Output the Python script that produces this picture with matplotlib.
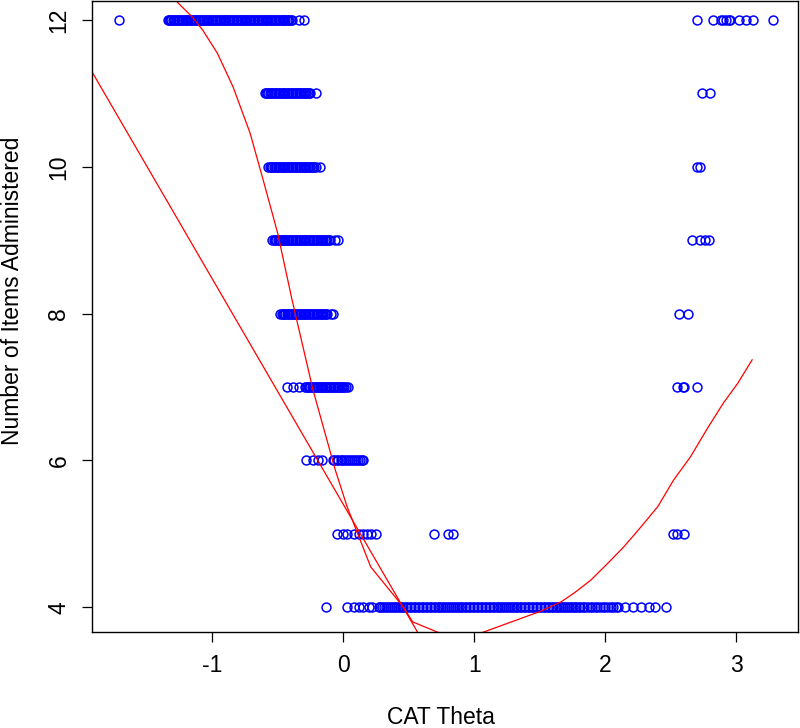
import numpy as np
import matplotlib
matplotlib.use('Agg')
import matplotlib.pyplot as plt

plt.rcParams['font.family'] = ['Liberation Sans', 'DejaVu Sans']
plt.rcParams['axes.unicode_minus'] = False

# ==> Data: CAT theta per number of items administered
theta_n4 = [-0.13, 0.03, 0.08, 0.12, 0.15, 0.20, 0.22,
            0.27, 0.28, 0.30, 0.31, 0.33, 0.34, 0.36, 0.37, 0.39, 0.40,
            0.42, 0.43, 0.45, 0.46, 0.48, 0.49, 0.51, 0.52, 0.54, 0.55,
            0.57, 0.58, 0.60, 0.61, 0.63, 0.64, 0.66, 0.67, 0.69, 0.70,
            0.72, 0.73, 0.75, 0.76, 0.78, 0.79, 0.81, 0.82, 0.84, 0.85,
            0.87, 0.88, 0.90, 0.91, 0.93, 0.94, 0.96, 0.97, 0.99, 1.00,
            1.02, 1.03, 1.05, 1.06, 1.08, 1.09, 1.11, 1.12, 1.14, 1.15,
            1.17, 1.18, 1.20, 1.21, 1.23, 1.24, 1.26, 1.27, 1.29, 1.30,
            1.32, 1.33, 1.35, 1.36, 1.38, 1.39, 1.41, 1.42, 1.44, 1.45,
            1.47, 1.48, 1.50, 1.51, 1.53, 1.54, 1.56, 1.57, 1.59, 1.60,
            1.62, 1.63, 1.65, 1.66, 1.68, 1.69, 1.71, 1.72, 1.74, 1.75,
            1.77, 1.78, 1.80, 1.81, 1.83, 1.84, 1.86, 1.88, 1.90, 1.92,
            1.94, 1.96, 1.98, 2.00, 2.02, 2.04, 2.06, 2.08, 2.10,
            2.15, 2.21, 2.27, 2.33, 2.38, 2.46]
theta_n5 = [-0.05, 0.00, 0.03, 0.08, 0.12, 0.15, 0.18, 0.21, 0.25,
            0.69, 0.80, 0.84, 2.52, 2.55, 2.60]
theta_n6 = [-0.28, -0.23, -0.19, -0.16,
            -0.08, -0.07, -0.05, -0.04, -0.02, -0.01, 0.01, 0.02, 0.04,
            0.05, 0.07, 0.08, 0.10, 0.11, 0.13, 0.14, 0.15]
theta_n7 = [-0.43, -0.38, -0.34,
            -0.29, -0.28, -0.27, -0.26, -0.25, -0.24, -0.23, -0.22, -0.21,
            -0.20, -0.19, -0.18, -0.17, -0.16, -0.15, -0.14, -0.13, -0.12,
            -0.11, -0.10, -0.09, -0.08, -0.07, -0.06, -0.05, -0.04, -0.03,
            -0.02, -0.01, 0.00, 0.01, 0.02, 0.04,
            2.55, 2.59, 2.60, 2.70]
theta_n8 = [-0.48, -0.47, -0.46, -0.45, -0.44, -0.43, -0.42, -0.41, -0.40,
            -0.39, -0.38, -0.37, -0.36, -0.35, -0.34, -0.33, -0.32, -0.31,
            -0.30, -0.29, -0.28, -0.27, -0.26, -0.25, -0.24, -0.23, -0.22,
            -0.21, -0.20, -0.19, -0.18, -0.17, -0.16, -0.15, -0.14, -0.13,
            -0.12, -0.09, -0.08, 2.56, 2.63]
theta_n9 = [-0.54, -0.53, -0.52, -0.51, -0.50, -0.49, -0.48, -0.47, -0.46,
            -0.45, -0.44, -0.43, -0.42, -0.41, -0.40, -0.39, -0.38, -0.37,
            -0.36, -0.35, -0.34, -0.33, -0.32, -0.31, -0.30, -0.29, -0.28,
            -0.27, -0.26, -0.25, -0.24, -0.23, -0.22, -0.21, -0.20, -0.19,
            -0.18, -0.17, -0.16, -0.15, -0.14, -0.13, -0.12, -0.11, -0.10,
            -0.06, -0.04, 2.66, 2.72, 2.76, 2.79]
theta_n10 = [-0.57, -0.56, -0.55, -0.54, -0.53, -0.52, -0.51, -0.50, -0.49,
             -0.48, -0.47, -0.46, -0.45, -0.44, -0.43, -0.42, -0.41, -0.40,
             -0.39, -0.38, -0.37, -0.36, -0.35, -0.34, -0.33, -0.32, -0.31,
             -0.30, -0.29, -0.28, -0.27, -0.26, -0.25, -0.24, -0.23, -0.22,
             -0.21, -0.18, 2.70, 2.72]
theta_n11 = [-0.60, -0.59, -0.58, -0.57, -0.56, -0.55, -0.54, -0.53, -0.52,
             -0.51, -0.50, -0.49, -0.48, -0.47, -0.46, -0.45, -0.44, -0.43,
             -0.42, -0.41, -0.40, -0.39, -0.38, -0.37, -0.36, -0.35, -0.34,
             -0.33, -0.32, -0.31, -0.30, -0.29, -0.28, -0.27, -0.26, -0.25,
             -0.21, 2.74, 2.80]
theta_n12 = [-1.71,
             -1.34, -1.33, -1.32, -1.31, -1.30, -1.29, -1.28, -1.27, -1.26,
             -1.25, -1.24, -1.23, -1.22, -1.21, -1.20, -1.19, -1.18, -1.17,
             -1.16, -1.15, -1.14, -1.13, -1.12, -1.11, -1.10, -1.09, -1.08,
             -1.07, -1.06, -1.05, -1.04, -1.03, -1.02, -1.01, -1.00, -0.99,
             -0.98, -0.97, -0.96, -0.95, -0.94, -0.93, -0.92, -0.91, -0.90,
             -0.89, -0.88, -0.87, -0.86, -0.85, -0.84, -0.83, -0.82, -0.81,
             -0.80, -0.79, -0.78, -0.77, -0.76, -0.75, -0.74, -0.73, -0.72,
             -0.71, -0.70, -0.69, -0.68, -0.67, -0.66, -0.65, -0.64, -0.63,
             -0.62, -0.61, -0.60, -0.59, -0.58, -0.57, -0.56, -0.55, -0.54,
             -0.53, -0.52, -0.51, -0.50, -0.49, -0.48, -0.47, -0.46, -0.45,
             -0.44, -0.43, -0.42, -0.41, -0.40, -0.39, -0.34, -0.30,
             2.70, 2.82, 2.88, 2.90, 2.92, 2.94, 2.95, 3.02, 3.07, 3.13, 3.28]

# ==> Fitted curves
fit1_theta = [-1.96, 0.60]
fit1_items = [11.43, 3.56]

fit2_theta = [-1.36, -1.28, -1.15, -1.07, -0.96, -0.84, -0.71, -0.61, -0.50,
              -0.39, -0.23, -0.06, 0.03, 0.21, 0.46, 0.53, 0.72, 0.89,
              1.07, 1.33, 1.50, 1.66, 1.76, 1.89, 2.02, 2.14, 2.27, 2.40,
              2.52, 2.65, 2.78, 2.90, 3.01, 3.12]
fit2_items = [12.41, 12.27, 12.04, 11.86, 11.55, 11.09, 10.46, 9.82, 9.10,
              8.19, 6.96, 5.87, 5.37, 4.55, 4.00, 3.80, 3.66, 3.59,
              3.66, 3.83, 3.94, 4.07, 4.19, 4.37, 4.60, 4.82, 5.09, 5.37,
              5.73, 6.05, 6.44, 6.78, 7.05, 7.37]

rows = [(4, theta_n4), (5, theta_n5), (6, theta_n6), (7, theta_n7),
        (8, theta_n8), (9, theta_n9), (10, theta_n10), (11, theta_n11),
        (12, theta_n12)]
theta = np.concatenate([np.array(t, dtype=float) for _, t in rows])
items = np.concatenate([np.full(len(t), n, dtype=float) for n, t in rows])


# ==> Plot
fig = plt.figure(figsize=(8.0, 7.28), dpi=100)
ax = fig.add_axes([92 / 800, 96 / 728, 706 / 800, 631 / 728])

ax.plot(theta, items, linestyle='none', marker='o', markersize=6.4,
        markerfacecolor='none', markeredgecolor='#0000FF', markeredgewidth=1.1)
ax.plot(fit1_theta, fit1_items, color='#FF0000', linewidth=0.9)
ax.plot(fit2_theta, fit2_items, color='#FF0000', linewidth=0.9)

ax.set_xlim(-1.916, 3.47)
ax.set_ylim(3.662, 12.26)
ax.set_xticks([-1, 0, 1, 2, 3])
ax.set_yticks([4, 6, 8, 10, 12])
ax.tick_params(direction='out', length=7.5, width=0.9, labelsize=16.5, pad=8)
for lab in ax.get_yticklabels():
    lab.set_rotation(90)
    lab.set_va('center')
for sp in ax.spines.values():
    sp.set_linewidth(1.0)

ax.set_xlabel('CAT Theta', fontsize=16.5, va='center')
ax.xaxis.set_label_coords(0.494, -0.136)
ax.set_ylabel('Number of Items Administered', fontsize=16.5, va='center')
ax.yaxis.set_label_coords(-0.112, 0.54)

fig.savefig('out.png', dpi=100)
